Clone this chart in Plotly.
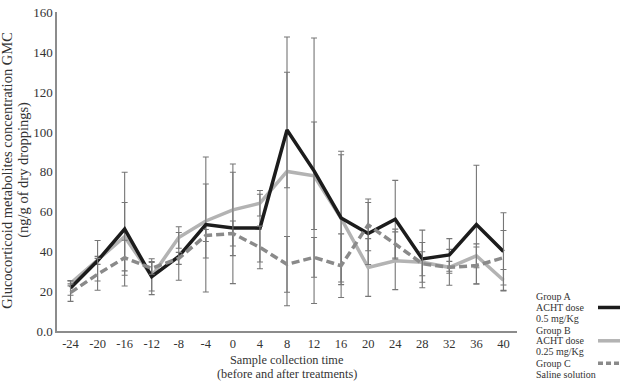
import plotly.graph_objects as go

times = ["-24", "-20", "-16", "-12", "-8", "-4", "0", "4", "8", "12",
         "16", "20", "24", "28", "32", "36", "40"]
group_a = [21.6, 35.3, 51.2, 27.3, 37.5, 53.5, 51.8, 51.7, 101, 80.5,
           56.8, 49, 56.2, 36.2, 38.2, 53.5, 39.9]
group_a_err = [3.6, 10.2, 28.6, 9, 12, 33.9, 28, 17, 29, 66.7,
               33.5, 15.6, 19.5, 14.5, 8.2, 29.8, 19.5]
group_b = [24, 35.5, 47.4, 27.5, 47, 55.3, 60.9, 64.2, 80.2, 78,
           56.6, 31.9, 35.3, 34.5, 32, 37.8, 25.5]
group_b_err = [1.3, 2, 17.2, 7.4, 5.4, 18.6, 23, 6.4, 67.5, 27,
               32, 14.5, 14.5, 10, 9, 6, 5.4]
group_c = [19.3, 28.5, 36.8, 31.5, 36.5, 48, 49, 42, 33.5, 37,
           32.8, 53.3, 43.7, 33.8, 32, 32.9, 36.8]
group_c_err = [4.4, 8, 8.8, 3, 3, 3, 6.3, 10.7, 14, 10,
               16, 13, 7.5, 6, 3, 9.3, 13.7]

y_ticks = [0, 20, 40, 60, 80, 100, 120, 140, 160]
y_tick_text = ["0.0", "20", "40", "60", "80", "100", "120", "140", "160"]

legend_a = ["Group A", "ACHT dose", "0.5 mg/Kg"]
legend_b = ["Group B", "ACHT dose", "0.25 mg/Kg"]
legend_c = ["Group C", "Saline solution"]

FONT = "Liberation Serif"
ERR_COLOR = "#767676"

def err(arr):
    return dict(type="data", array=arr, visible=True, color=ERR_COLOR,
                thickness=1.1, width=3)

fig = go.Figure()
fig.add_trace(go.Scatter(x=times, y=group_b, mode="lines", name="Group B",
                         line=dict(color="#b3b3b3", width=3.5),
                         error_y=err(group_b_err)))
fig.add_trace(go.Scatter(x=times, y=group_a, mode="lines", name="Group A",
                         line=dict(color="#1c1c1c", width=3.5),
                         error_y=err(group_a_err)))
fig.add_trace(go.Scatter(x=times, y=group_c, mode="lines", name="Group C",
                         line=dict(color="#8a8a8a", width=3.5, dash="8px,4px"),
                         error_y=err(group_c_err)))

W, H = 622, 388
L, R, T, B = 57, 105, 5.4, 57
pw, ph = W - L - R, H - T - B

def px_x(x):
    return (x - L) / pw

def px_y(y):
    return (H - B - y) / ph

annotations = []
def text_at(txt, x, y, size=9.5, angle=0, xanchor="left"):
    annotations.append(dict(text=txt, x=px_x(x), y=px_y(y), xref="paper", yref="paper",
                            showarrow=False, xanchor=xanchor, yanchor="middle",
                            textangle=angle, borderpad=0,
                            font=dict(family=FONT, size=size, color="#333")))

for txt, yy in zip(legend_a, [296, 307, 318]):
    text_at(txt, 535, yy, size=10)
for txt, yy in zip(legend_b, [330, 341, 352]):
    text_at(txt, 535, yy, size=10)
for txt, yy in zip(legend_c, [364, 375]):
    text_at(txt, 535, yy, size=10)

text_at("Sample collection time", 287, 361, size=12.3, xanchor="center")
text_at("(before and after treatments)", 287, 375, size=12.3, xanchor="center")
text_at("Glucocorticoid metabolites concentration GMC", 7.5, 167, size=14.5, angle=-90, xanchor="center")
text_at("(ng/g of dry droppings)", 23.5, 167, size=14.5, angle=-90, xanchor="center")

shapes = [
    dict(type="line", xref="paper", yref="paper", x0=px_x(598), x1=px_x(620),
         y0=px_y(307), y1=px_y(307), line=dict(color="#1c1c1c", width=3.5)),
    dict(type="line", xref="paper", yref="paper", x0=px_x(598), x1=px_x(620),
         y0=px_y(341), y1=px_y(341), line=dict(color="#b3b3b3", width=3.5)),
    dict(type="line", xref="paper", yref="paper", x0=px_x(598), x1=px_x(620),
         y0=px_y(364), y1=px_y(364), line=dict(color="#8a8a8a", width=3.5, dash="5px,3px")),
]

fig.update_layout(
    width=W, height=H,
    margin=dict(l=L, r=R, t=T, b=B, pad=0),
    paper_bgcolor="white", plot_bgcolor="white",
    showlegend=False,
    font=dict(family=FONT, size=12, color="#333"),
    annotations=annotations,
    shapes=shapes,
    xaxis=dict(type="category", range=[-0.5, 16.5], showgrid=False, zeroline=False,
               showline=True, linecolor="#8c8c8c", linewidth=1.5, ticks="",
               tickfont=dict(family=FONT, size=12.5, color="#333")),
    yaxis=dict(range=[0, 160.3], tickvals=y_ticks, ticktext=y_tick_text, showgrid=False,
               zeroline=False, showline=True, linecolor="#8c8c8c", linewidth=1.5, ticks="",
               ticklabeloverflow="allow",
               tickfont=dict(family=FONT, size=13, color="#333")),
)

fig.write_html("out.html")
